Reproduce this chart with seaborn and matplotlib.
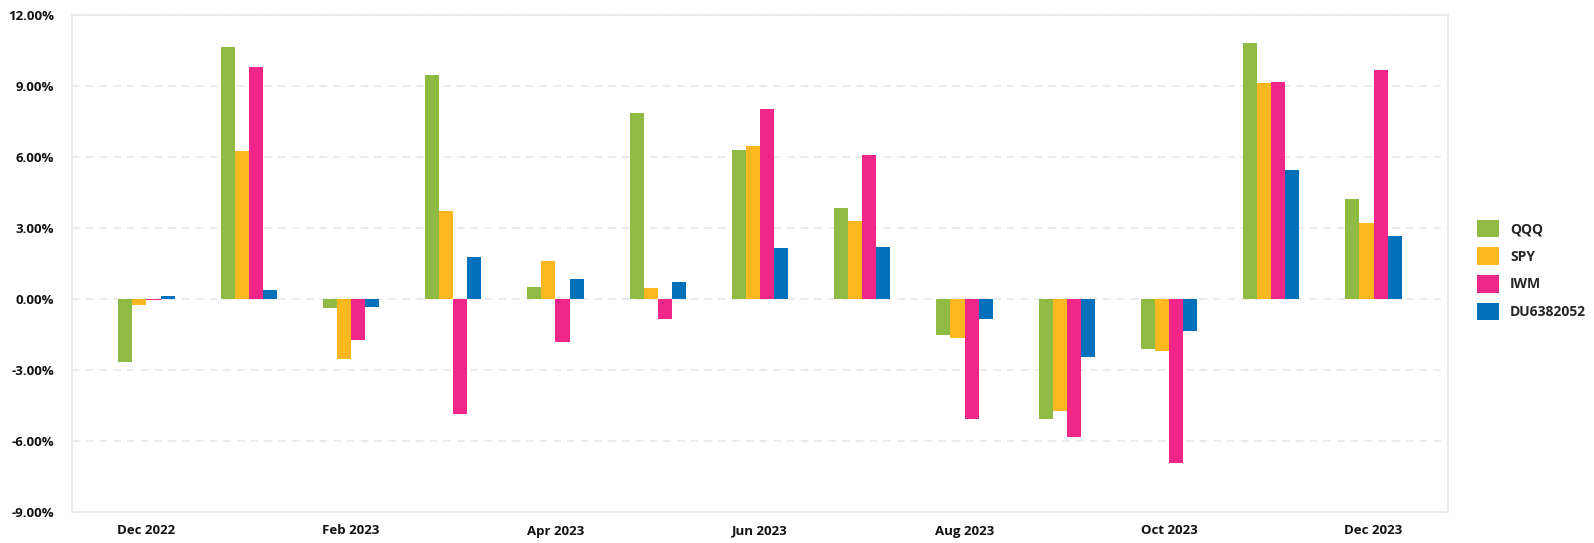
import numpy as np
import pandas as pd
import matplotlib
matplotlib.use("Agg")
import matplotlib.pyplot as plt
import seaborn as sns

# monthly returns (%)
months = ["Dec 2022", "Jan 2023", "Feb 2023", "Mar 2023", "Apr 2023", "May 2023", "Jun 2023",
          "Jul 2023", "Aug 2023", "Sep 2023", "Oct 2023", "Nov 2023", "Dec 2023"]
series = ["QQQ", "SPY", "IWM", "DU6382052"]
qqq = [-2.68, 10.63, -0.36, 9.45, 0.50, 7.86, 6.31, 3.86, -1.50, -5.08, -2.10, 10.81, 4.24]
spy = [-0.25, 6.26, -2.52, 3.70, 1.59, 0.45, 6.47, 3.28, -1.63, -4.75, -2.18, 9.12, 3.23]
iwm = [-0.03, 9.79, -1.72, -4.86, -1.81, -0.83, 8.02, 6.09, -5.08, -5.84, -6.92, 9.16, 9.67]
du = [0.12, 0.38, -0.33, 1.76, 0.83, 0.71, 2.14, 2.18, -0.83, -2.43, -1.34, 5.46, 2.65]
colors = ["#8fbb44", "#fdb71f", "#f02688", "#0071ba"]
yticks = [-9, -6, -3, 0, 3, 6, 9, 12]

df = pd.DataFrame({
    "month": months * 4,
    "series": [s for s in series for _ in months],
    "value": qqq + spy + iwm + du,
})

sns.set_theme(style="white")
plt.rcParams["font.family"] = ["Open Sans", "DejaVu Sans"]

fig = plt.figure(figsize=(15.94, 5.43), dpi=100)
ax = fig.add_axes([72 / 1594, 31 / 543, 1376 / 1594, 497 / 543])

sns.barplot(data=df, x="month", y="value", hue="series", hue_order=series,
            palette=colors, width=0.55, saturation=1, dodge=True, ax=ax,
            linewidth=0, errorbar=None)

ax.set_xlim(-0.728, len(months) - 1 + 0.728)
ax.set_ylim(-9, 12)
ax.set_yticks(yticks)
ax.set_yticklabels([f"{v:.2f}%" for v in yticks], fontsize=9.5, fontweight="bold", color="#111111")

# only every other month is labelled
ax.set_xticks(range(0, len(months), 2))
ax.set_xticklabels(months[::2], fontsize=9.5, fontweight="bold", color="#111111")
ax.set_xlabel("")
ax.set_ylabel("")
ax.tick_params(axis="both", length=0)
ax.tick_params(axis="y", pad=13)
ax.tick_params(axis="x", pad=9)

ax.set_axisbelow(True)
ax.yaxis.grid(True, color="#e6e6e6", linewidth=1.1, linestyle=(0, (5, 4)))
for sp in ax.spines.values():
    sp.set_color("#e8e8e8")
    sp.set_linewidth(1.3)

ax.legend(loc="center left", bbox_to_anchor=(1477 / 1594, 1 - 270 / 543),
          bbox_transform=fig.transFigure, frameon=False, borderpad=0, borderaxespad=0,
          handlelength=1.58, handleheight=1.58, handletextpad=0.8, labelspacing=0.72,
          prop={"size": 10, "weight": "bold"})

fig.savefig("out.png", dpi=100)
